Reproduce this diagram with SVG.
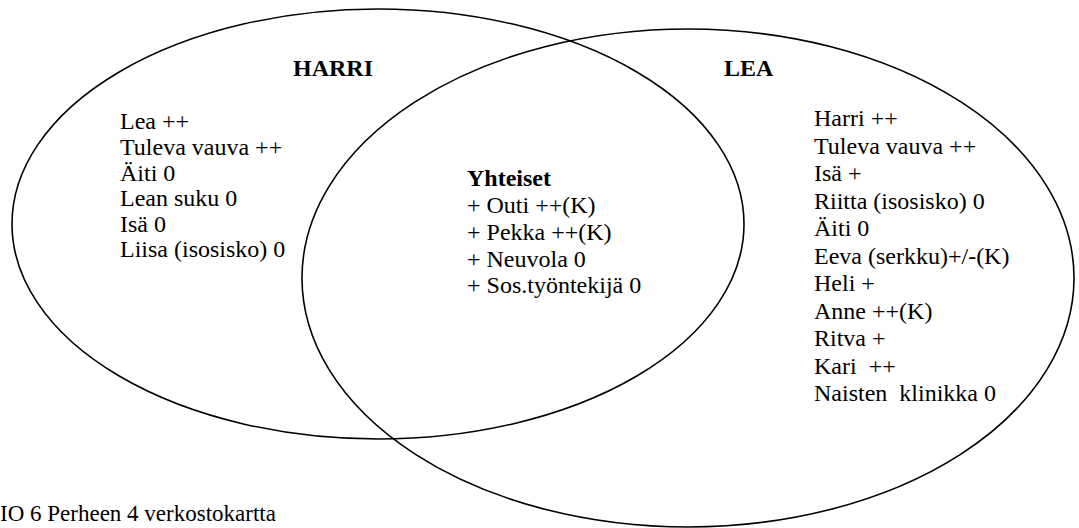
<svg xmlns="http://www.w3.org/2000/svg" width="1079" height="528" viewBox="0 0 1079 528">
<style>
text{font-family:'Liberation Serif','Times New Roman',serif;font-size:24px;fill:#000}
.b{font-weight:bold}
.e{fill:none;stroke:#000;stroke-width:1.6}
</style>
<rect width="1079" height="528" fill="#fff"/>
<g id="harri">
<ellipse class="e" cx="378" cy="224" rx="366" ry="215"/>
<text class="b" x="293" y="76">HARRI</text>
<text x="120" y="129">Lea ++</text>
<text x="120" y="155">Tuleva vauva ++</text>
<text x="120" y="181">Äiti 0</text>
<text x="120" y="206">Lean suku 0</text>
<text x="120" y="232">Isä 0</text>
<text x="120" y="257">Liisa (isosisko) 0</text>
</g>
<g id="lea">
<ellipse class="e" cx="688" cy="278" rx="386" ry="249"/>
<text class="b" x="724" y="76">LEA</text>
<text x="814" y="126">Harri ++</text>
<text x="814" y="153.5">Tuleva vauva ++</text>
<text x="814" y="181">Isä +</text>
<text x="814" y="208.5">Riitta (isosisko) 0</text>
<text x="814" y="236">Äiti 0</text>
<text x="814" y="263.5">Eeva (serkku)+/-(K)</text>
<text x="814" y="291">Heli +</text>
<text x="814" y="318.5">Anne ++(K)</text>
<text x="814" y="346">Ritva +</text>
<text x="814" y="373.5" xml:space="preserve">Kari  ++</text>
<text x="814" y="401" xml:space="preserve">Naisten  klinikka 0</text>
</g>
<g id="yhteiset">
<text class="b" x="467" y="186">Yhteiset</text>
<text x="467" y="213">+ Outi ++(K)</text>
<text x="467" y="240">+ Pekka ++(K)</text>
<text x="467" y="267">+ Neuvola 0</text>
<text x="467" y="293">+ Sos.työntekijä 0</text>
</g>
<g id="connectors"/>
<text x="0" y="521" style="font-size:23px">IO 6 Perheen 4 verkostokartta</text>
</svg>
